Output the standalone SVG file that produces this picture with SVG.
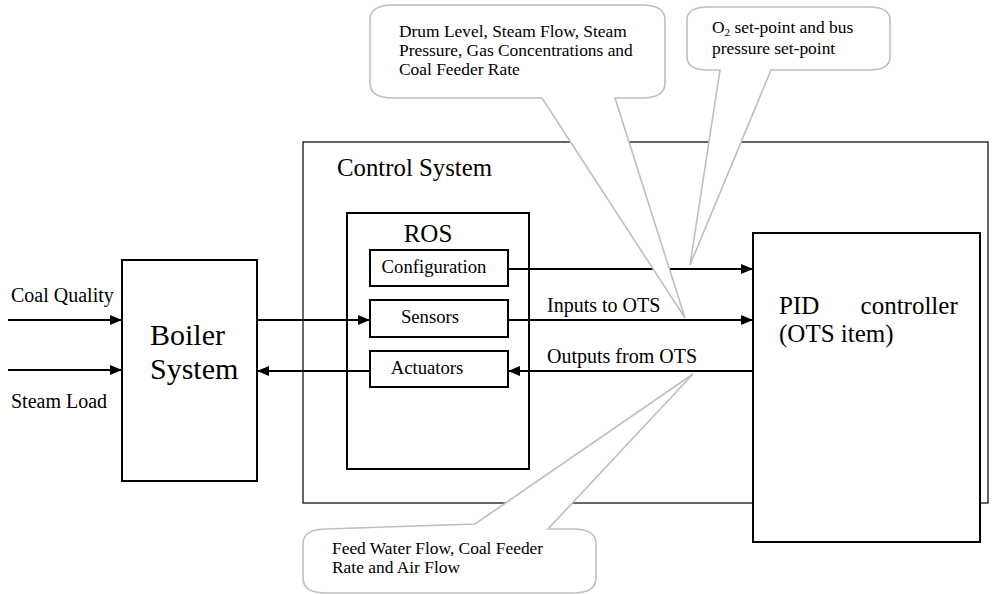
<svg xmlns="http://www.w3.org/2000/svg" width="992" height="594" viewBox="0 0 992 594">
<defs>
<marker id="ah" markerWidth="12" markerHeight="10" refX="12" refY="5" orient="auto" markerUnits="userSpaceOnUse">
<path d="M0,0 L12,5 L0,10 Z" fill="#000"/>
</marker>
<style>
text, tspan{font-family:"Liberation Serif","Times New Roman",serif;fill:#000}
.box{fill:#fff;stroke:#000;stroke-width:2}
.thin{fill:none;stroke:#000;stroke-width:1.2}
.conn{fill:none;stroke:#000;stroke-width:2}
.call{fill:#fff;stroke:#bfbfbf;stroke-width:1.6}
.ct{font-size:17.4px}
</style>
</defs>
<rect width="992" height="594" fill="#fff"/>

<g id="control-system">
<rect class="thin" x="303" y="142" width="685" height="361"/>
<text x="337" y="176" font-family="Liberation Serif, serif" font-size="24.8">Control System</text>
</g>

<g id="boiler-system">
<rect class="box" x="122" y="260" width="135" height="221"/>
<text x="150" y="345" font-family="Liberation Serif, serif" font-size="30">Boiler</text>
<text x="150" y="379" font-family="Liberation Serif, serif" font-size="30">System</text>
</g>

<g id="ros">
<rect class="box" x="347" y="213" width="182" height="256"/>
<text x="428" y="242" font-family="Liberation Serif, serif" font-size="25" text-anchor="middle">ROS</text>
</g>

<g id="configuration">
<rect class="box" x="370" y="250" width="138" height="36"/>
<text x="434" y="273" font-family="Liberation Serif, serif" font-size="18.7" text-anchor="middle">Configuration</text>
</g>

<g id="sensors">
<rect class="box" x="370" y="300" width="138" height="37"/>
<text x="430" y="323" font-family="Liberation Serif, serif" font-size="18.7" text-anchor="middle">Sensors</text>
</g>

<g id="actuators">
<rect class="box" x="370" y="351" width="138" height="36"/>
<text x="427" y="374" font-family="Liberation Serif, serif" font-size="18.7" text-anchor="middle">Actuators</text>
</g>

<g id="pid-controller">
<rect class="box" x="753" y="233" width="227" height="309"/>
<text x="779" y="314" font-family="Liberation Serif, serif" font-size="25" word-spacing="35">PID controller</text>
<text x="779" y="342" font-family="Liberation Serif, serif" font-size="25">(OTS item)</text>
</g>

<g id="connectors">
<line class="conn" x1="8" y1="320" x2="122" y2="320" marker-end="url(#ah)"/>
<line class="conn" x1="8" y1="370" x2="122" y2="370" marker-end="url(#ah)"/>
<line class="conn" x1="257" y1="320" x2="370" y2="320" marker-end="url(#ah)"/>
<line class="conn" x1="370" y1="371" x2="257" y2="371" marker-end="url(#ah)"/>
<line class="conn" x1="508" y1="269" x2="753" y2="269" marker-end="url(#ah)"/>
<line class="conn" x1="508" y1="320" x2="753" y2="320" marker-end="url(#ah)"/>
<line class="conn" x1="753" y1="371" x2="508" y2="371" marker-end="url(#ah)"/>
<text x="11" y="302" font-family="Liberation Serif, serif" font-size="20">Coal Quality</text>
<text x="11" y="408" font-family="Liberation Serif, serif" font-size="20">Steam Load</text>
<text x="547" y="312" font-family="Liberation Serif, serif" font-size="20">Inputs to OTS</text>
<text x="547" y="363" font-family="Liberation Serif, serif" font-size="20">Outputs from OTS</text>
</g>

<g id="callout-sensors">
<path class="call" d="M393,5 H642 Q665,5 665,20 V83 Q665,98 642,98 H615 L685,318 L542,98 H393 Q370,98 370,83 V20 Q370,5 393,5 Z"/>
<text class="ct" x="399" y="37" font-family="Liberation Serif, serif">Drum Level, Steam Flow, Steam</text>
<text class="ct" x="399" y="56" font-family="Liberation Serif, serif">Pressure, Gas Concentrations and</text>
<text class="ct" x="399" y="75" font-family="Liberation Serif, serif">Coal Feeder Rate</text>
</g>

<g id="callout-setpoint">
<path class="call" d="M708,7 H869 Q890,7 890,20 V57 Q890,70 869,70 H771 L690,265 L720,70 H708 Q687,70 687,57 V20 Q687,7 708,7 Z"/>
<text class="ct" x="712" y="33" font-family="Liberation Serif, serif">O<tspan font-size="11" baseline-shift="-3">2</tspan> set-point and bus</text>
<text class="ct" x="712" y="54" font-family="Liberation Serif, serif">pressure set-point</text>
</g>

<g id="callout-actuators">
<path class="call" d="M326,529 Q303,529 303,544 V578 Q303,593 326,593 H573 Q596,593 596,578 V544 Q596,529 573,529 H548 L693,374 L475,524 Z"/>
<text class="ct" x="332" y="554" font-family="Liberation Serif, serif">Feed Water Flow, Coal Feeder</text>
<text class="ct" x="332" y="573" font-family="Liberation Serif, serif">Rate and Air Flow</text>
</g>
</svg>
